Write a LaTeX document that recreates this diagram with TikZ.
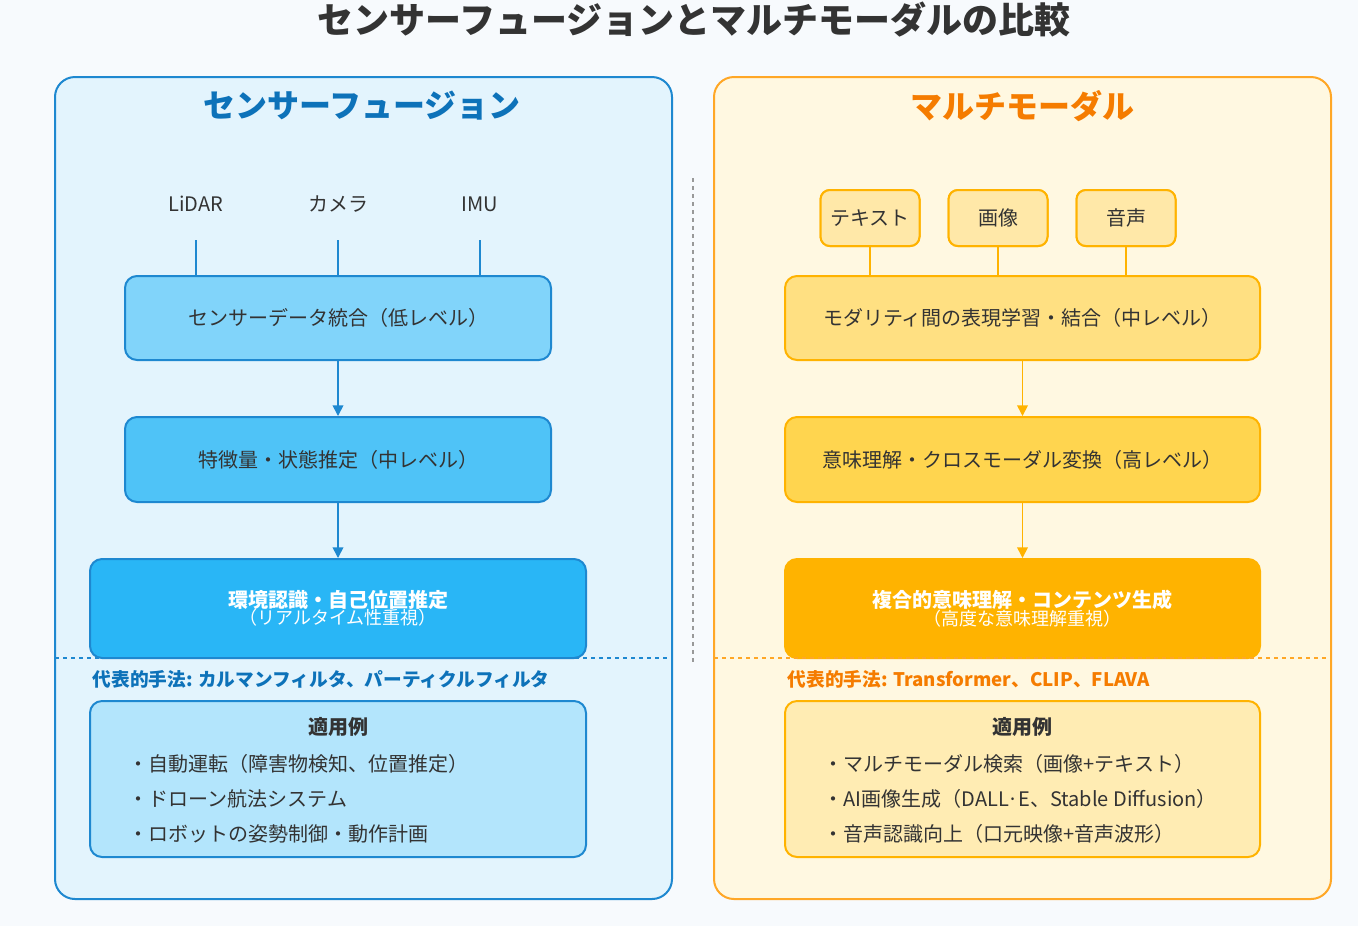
\documentclass[tikz,border=0pt]{standalone}
\usepackage{fontspec}
\setmainfont{Noto Sans CJK JP}
\usetikzlibrary{arrows.meta}
\definecolor{bg}{HTML}{F7FAFD}
\definecolor{bl}{HTML}{1E88D0}
\definecolor{bldark}{HTML}{0D72B9}
\definecolor{lpanel}{HTML}{E3F4FD}
\definecolor{b1}{HTML}{81D4FA}
\definecolor{b2}{HTML}{4FC3F7}
\definecolor{b3}{HTML}{29B6F6}
\definecolor{b4}{HTML}{B3E5FC}
\definecolor{or}{HTML}{FFA726}
\definecolor{ordark}{HTML}{F57C00}
\definecolor{rpanel}{HTML}{FFF8E1}
\definecolor{oborder}{HTML}{FFB300}
\definecolor{o0}{HTML}{FFE8A8}
\definecolor{o1}{HTML}{FFE082}
\definecolor{o2}{HTML}{FFD54F}
\definecolor{o3}{HTML}{FFB300}
\definecolor{o4}{HTML}{FFECB3}
\definecolor{tx}{HTML}{333333}
\tikzset{
  body/.style={font=\fontsize{15}{18}\selectfont, text=tx},
  lbox/.style={draw=bl, line width=1.5pt, rounded corners=9pt},
  rbox/.style={draw=oborder, line width=1.5pt, rounded corners=9pt},
  arr/.style={-{Triangle[length=8pt,width=8pt]}, line width=1.2pt},
}
\begin{document}
\begin{tikzpicture}[x=0.75pt,y=-0.75pt]
\fill[bg] (0,0) rectangle (1358,926);
\useasboundingbox (0,0) rectangle (1358,926);
\node[font=\fontsize{27}{30}\selectfont\bfseries, text=tx] (title) at (694,20) {センサーフュージョンとマルチモーダルの比較};
% left panel
\draw[draw=bl, fill=lpanel, line width=1.5pt, rounded corners=15pt] (55,77) rectangle (672,899);
\node[font=\fontsize{24}{28}\selectfont\bfseries, text=bldark] (lt) at (362,106) {センサーフュージョン};
\node[body] (lidar) at (196,204) {LiDAR};
\node[body] (cam) at (338,204) {カメラ};
\node[body] (imu) at (480,204) {IMU};
\node[lbox, fill=b1, minimum width=426*0.75pt, minimum height=84*0.75pt, body] (l1) at (338,318) {センサーデータ統合（低レベル）};
\node[lbox, fill=b2, minimum width=426*0.75pt, minimum height=85*0.75pt, body] (l2) at (338,459.5) {特徴量・状態推定（中レベル）};
\node[lbox, fill=b3, minimum width=496*0.75pt, minimum height=99*0.75pt, align=center] (l3) at (338,608.5) {\fontsize{15}{18}\selectfont\bfseries\color{white}環境認識・自己位置推定\\[-1pt]\fontsize{13.5}{16}\selectfont\color{white}（リアルタイム性重視）};
\coordinate (c1) at (196,240); \coordinate (c2) at (338,240); \coordinate (c3) at (480,240);
\draw[bl, line width=1.2pt] (c1) -- (c1 |- l1.north);
\draw[bl, line width=1.2pt] (c2) -- (c2 |- l1.north);
\draw[bl, line width=1.2pt] (c3) -- (c3 |- l1.north);
\draw[arr, bl] (l1) -- (l2);
\draw[arr, bl] (l2) -- (l3);
\draw[bl, dashed, line width=0.8pt] (55,658) -- (672,658);
\node[anchor=west, font=\fontsize{14}{16}\selectfont\bfseries, text=bldark] (lm) at (88,679) {代表的手法: カルマンフィルタ、パーティクルフィルタ};
\node[lbox, fill=b4, minimum width=496*0.75pt, minimum height=156*0.75pt] (l4) at (338,779) {};
\node[font=\fontsize{15}{18}\selectfont\bfseries, text=tx] (l4t) at (338,727) {適用例};
\node[body, anchor=west] (li1) at (124,764) {・自動運転（障害物検知、位置推定）};
\node[body, anchor=west] (li2) at (124,799) {・ドローン航法システム};
\node[body, anchor=west] (li3) at (124,834) {・ロボットの姿勢制御・動作計画};
% divider
\draw[gray!80, dashed, line width=1.5pt] (693,178) -- (693,665);
% right panel
\draw[draw=or, fill=rpanel, line width=1.5pt, rounded corners=15pt] (714,77) rectangle (1331,899);
\node[font=\fontsize{24}{28}\selectfont\bfseries, text=ordark] (rt) at (1022,106) {マルチモーダル};
\node[rbox, fill=o0, minimum width=99*0.75pt, minimum height=56*0.75pt, body, rounded corners=7pt] (t1) at (870,218) {テキスト};
\node[rbox, fill=o0, minimum width=99*0.75pt, minimum height=56*0.75pt, body, rounded corners=7pt] (t2) at (998,218) {画像};
\node[rbox, fill=o0, minimum width=99*0.75pt, minimum height=56*0.75pt, body, rounded corners=7pt] (t3) at (1126,218) {音声};
\node[rbox, fill=o1, minimum width=475*0.75pt, minimum height=84*0.75pt, body] (r1) at (1022.5,318) {モダリティ間の表現学習・結合（中レベル）};
\node[rbox, fill=o2, minimum width=475*0.75pt, minimum height=85*0.75pt, body] (r2) at (1022.5,459.5) {意味理解・クロスモーダル変換（高レベル）};
\node[rbox, fill=o3, minimum width=475*0.75pt, minimum height=99*0.75pt, align=center] (r3) at (1022.5,608.5) {\fontsize{15}{18}\selectfont\bfseries\color{white}複合的意味理解・コンテンツ生成\\[-1pt]\fontsize{13.5}{16}\selectfont\color{white}（高度な意味理解重視）};
\draw[oborder, line width=1.2pt] (t1) -- (t1 |- r1.north);
\draw[oborder, line width=1.2pt] (t2) -- (t2 |- r1.north);
\draw[oborder, line width=1.2pt] (t3) -- (t3 |- r1.north);
\node[rbox, fill=o0, minimum width=99*0.75pt, minimum height=56*0.75pt, body, rounded corners=7pt] at (870,218) {テキスト};
\node[rbox, fill=o0, minimum width=99*0.75pt, minimum height=56*0.75pt, body, rounded corners=7pt] at (998,218) {画像};
\node[rbox, fill=o0, minimum width=99*0.75pt, minimum height=56*0.75pt, body, rounded corners=7pt] at (1126,218) {音声};
\draw[arr, oborder] (r1) -- (r2);
\draw[arr, oborder] (r2) -- (r3);
\draw[or, dashed, line width=0.8pt] (714,658) -- (1331,658);
\node[anchor=west, font=\fontsize{14}{16}\selectfont\bfseries, text=ordark] (rm) at (783,679) {代表的手法: Transformer、CLIP、FLAVA};
\node[rbox, fill=o4, minimum width=475*0.75pt, minimum height=156*0.75pt] (r4) at (1022.5,779) {};
\node[font=\fontsize{15}{18}\selectfont\bfseries, text=tx] (r4t) at (1022.5,727) {適用例};
\node[body, anchor=west] (ri1) at (819,764) {・マルチモーダル検索（画像+テキスト）};
\node[body, anchor=west] (ri2) at (819,799) {・AI画像生成（DALL·E、Stable Diffusion）};
\node[body, anchor=west] (ri3) at (819,834) {・音声認識向上（口元映像+音声波形）};
\end{tikzpicture}
\end{document}
